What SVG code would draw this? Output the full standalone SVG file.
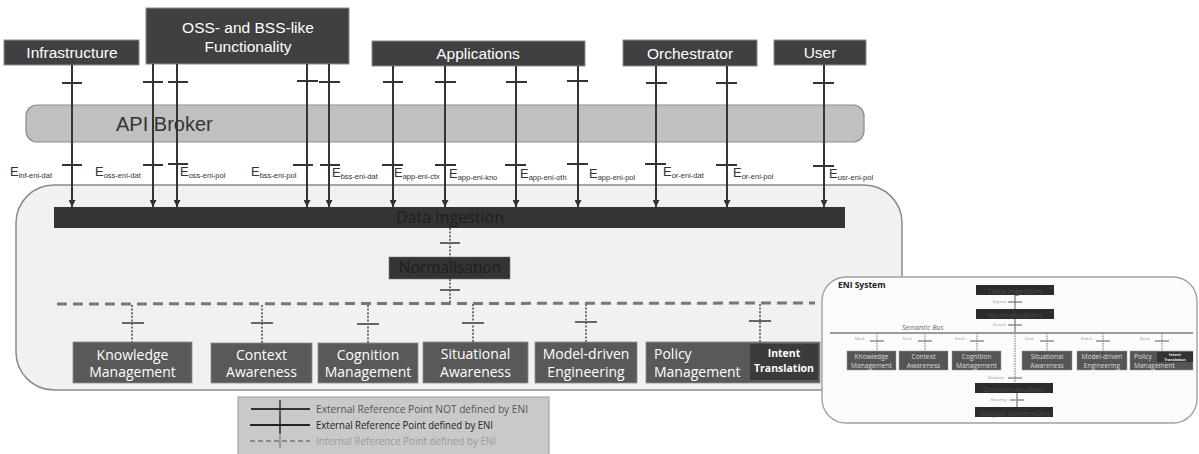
<svg xmlns="http://www.w3.org/2000/svg" width="1199" height="454" viewBox="0 0 1199 454">
  <defs>
    <marker id="arrow" markerUnits="userSpaceOnUse" markerWidth="7" markerHeight="7" refX="7" refY="3.5" orient="auto">
      <path d="M0,0 L7,3.5 L0,7 z" fill="#333"/>
    </marker>
    <style>
      .topbox { fill:#404040; stroke:#8c8c8c; stroke-width:1; }
      .toptxt { font-family:"Liberation Sans", Arial, sans-serif; font-size:15.5px; fill:#fff; text-anchor:middle; }
      .ext { stroke:#333; stroke-width:2; fill:none; }
      .tick { stroke:#333; stroke-width:2; }
      .elab { font-family:"Liberation Sans", Arial, sans-serif; font-size:13px; fill:#333; }
      .sub { font-size:7.5px; }
      .dot { stroke:#707070; stroke-width:2; stroke-dasharray:2 1.6; fill:none; }
      .itick { stroke:#666; stroke-width:2; }
      .mod { fill:#595959; stroke:#8c8c8c; stroke-width:0.8; }
      .modtxt { font-family:"Open Sans", "Noto Sans", sans-serif; font-size:14px; fill:#fff; text-anchor:middle; }
      .darkbar { fill:#343434; }
      .darktxt { font-family:"Open Sans", "Noto Sans", sans-serif; fill:#1e1e1e; text-anchor:middle; }
      .leg { font-family:"Open Sans", "Noto Sans", sans-serif; font-size:10px; }
      .mini { fill:#555; stroke:#999; stroke-width:0.5; }
      .minitxt { font-family:"Open Sans", "Noto Sans", sans-serif; font-size:6.6px; fill:#ddd; text-anchor:middle; }
      .minidark { fill:#2c2c2c; }
      .minidtxt { font-family:"Open Sans", "Noto Sans", sans-serif; font-size:8px; fill:#4a4a4a; text-anchor:middle; }
      .minilab { font-family:"Open Sans", "Noto Sans", sans-serif; font-size:3.6px; fill:#888; }
      .minitick { stroke:#777; stroke-width:1.2; }
      .minidot { stroke:#888; stroke-width:1.2; stroke-dasharray:1.5 1; fill:none; }
    </style>
  </defs>

  <rect width="1199" height="454" fill="#ffffff"/>

  <!-- ENI container -->
  <g id="node-eni-container">
    <rect x="16" y="185" width="886" height="205" rx="38" ry="38" fill="#f1f1f1" stroke="#8a8a8a" stroke-width="1.5"/>
  </g>

  <!-- API broker -->
  <g id="node-api-broker">
    <rect x="26" y="105" width="838" height="37" rx="11" ry="11" fill="#c0c0c0" stroke="#8a8a8a" stroke-width="1.2"/>
    <text x="116" y="131" font-family="Liberation Sans, Arial, sans-serif" font-size="20" fill="#333">API Broker</text>
  </g>

  <!-- external systems -->
  <g id="node-infrastructure">
    <rect class="topbox" x="4" y="40" width="135" height="25"/>
    <text class="toptxt" x="72" y="58">Infrastructure</text>
  </g>
  <g id="node-oss-bss">
    <rect class="topbox" x="146" y="8" width="203" height="56"/>
    <text class="toptxt" x="248" y="33">OSS- and BSS-like</text>
    <text class="toptxt" x="248" y="52">Functionality</text>
  </g>
  <g id="node-applications">
    <rect class="topbox" x="372" y="41" width="213" height="25"/>
    <text class="toptxt" x="478" y="59">Applications</text>
  </g>
  <g id="node-orchestrator">
    <rect class="topbox" x="623" y="40" width="134" height="26"/>
    <text class="toptxt" x="690" y="59">Orchestrator</text>
  </g>
  <g id="node-user">
    <rect class="topbox" x="774" y="40" width="92" height="25"/>
    <text class="toptxt" x="820" y="58">User</text>
  </g>

  <!-- data ingestion and normalisation -->
  <g id="node-data-ingestion">
    <rect class="darkbar" x="54" y="207" width="791" height="21"/>
    <text class="darktxt" x="450" y="223" font-size="16">Data Ingestion</text>
  </g>
  <g id="node-normalisation">
    <rect class="darkbar" x="389" y="257" width="121" height="22" stroke="#777" stroke-width="0.6"/>
    <text class="darktxt" x="450" y="273" font-size="15.5">Normalisation</text>
  </g>

  <!-- functional blocks -->
  <g id="node-knowledge-management">
    <rect class="mod" x="73" y="342" width="119" height="41"/>
    <text class="modtxt" x="132.5" y="360">Knowledge</text>
    <text class="modtxt" x="132.5" y="377">Management</text>
  </g>
  <g id="node-context-awareness">
    <rect class="mod" x="211" y="343" width="101" height="40"/>
    <text class="modtxt" x="261.5" y="360">Context</text>
    <text class="modtxt" x="261.5" y="377">Awareness</text>
  </g>
  <g id="node-cognition-management">
    <rect class="mod" x="318" y="343" width="100" height="40"/>
    <text class="modtxt" x="368" y="360">Cognition</text>
    <text class="modtxt" x="368" y="377">Management</text>
  </g>
  <g id="node-situational-awareness">
    <rect class="mod" x="423" y="342" width="105" height="41"/>
    <text class="modtxt" x="475.5" y="359">Situational</text>
    <text class="modtxt" x="475.5" y="377">Awareness</text>
  </g>
  <g id="node-model-driven-engineering">
    <rect class="mod" x="535" y="342" width="102" height="41"/>
    <text class="modtxt" x="586" y="359">Model-driven</text>
    <text class="modtxt" x="586" y="377">Engineering</text>
  </g>
  <g id="node-policy-management">
    <rect class="mod" x="646" y="342" width="174" height="41"/>
    <text x="654" y="359" font-family="Open Sans, Noto Sans, sans-serif" font-size="14" fill="#fff">Policy</text>
    <text x="654" y="377" font-family="Open Sans, Noto Sans, sans-serif" font-size="14" fill="#fff">Management</text>
    <g id="node-intent-translation">
      <rect x="750" y="344" width="68" height="36" fill="#3b3b3b"/>
      <text x="784" y="357" font-family="Open Sans, Noto Sans, sans-serif" font-size="10.5" font-weight="bold" fill="#fff" text-anchor="middle">Intent</text>
      <text x="784" y="372" font-family="Open Sans, Noto Sans, sans-serif" font-size="10.5" font-weight="bold" fill="#fff" text-anchor="middle">Translation</text>
    </g>
  </g>

  <!-- reference points -->
  <g id="connectors">
    <!-- external reference points into Data Ingestion -->
    <g class="ext">
      <line x1="72" y1="65" x2="72" y2="207" marker-end="url(#arrow)"/>
      <line x1="153" y1="64" x2="153" y2="207" marker-end="url(#arrow)"/>
      <line x1="177" y1="64" x2="177" y2="207" marker-end="url(#arrow)"/>
      <line x1="307" y1="64" x2="307" y2="207" marker-end="url(#arrow)"/>
      <line x1="329" y1="64" x2="329" y2="207" marker-end="url(#arrow)"/>
      <line x1="393" y1="66" x2="393" y2="207" marker-end="url(#arrow)"/>
      <line x1="445" y1="66" x2="445" y2="207" marker-end="url(#arrow)"/>
      <line x1="516" y1="66" x2="516" y2="207" marker-end="url(#arrow)"/>
      <line x1="578" y1="66" x2="578" y2="207" marker-end="url(#arrow)"/>
      <line x1="656" y1="66" x2="656" y2="207" marker-end="url(#arrow)"/>
      <line x1="727" y1="66" x2="727" y2="207" marker-end="url(#arrow)"/>
      <line x1="824" y1="65" x2="824" y2="207" marker-end="url(#arrow)"/>
    </g>
    <g class="tick">
      <line x1="62" y1="83" x2="82" y2="83"/><line x1="62" y1="165" x2="82" y2="165"/>
      <line x1="143" y1="82" x2="163" y2="82"/><line x1="143" y1="165" x2="163" y2="165"/>
      <line x1="168" y1="82" x2="188" y2="82"/><line x1="168" y1="164" x2="188" y2="164"/>
      <line x1="297" y1="81" x2="318" y2="81"/><line x1="293" y1="165" x2="313" y2="165"/>
      <line x1="319" y1="82" x2="340" y2="82"/><line x1="320" y1="165" x2="340" y2="165"/>
      <line x1="383" y1="82" x2="403" y2="82"/><line x1="382" y1="165" x2="403" y2="165"/>
      <line x1="435" y1="82" x2="456" y2="82"/><line x1="435" y1="165" x2="456" y2="165"/>
      <line x1="506" y1="82" x2="527" y2="82"/><line x1="505" y1="165" x2="526" y2="165"/>
      <line x1="567" y1="81" x2="588" y2="81"/><line x1="567" y1="164" x2="588" y2="164"/>
      <line x1="646" y1="83" x2="667" y2="83"/><line x1="645" y1="164" x2="666" y2="164"/>
      <line x1="716" y1="83" x2="737" y2="83"/><line x1="716" y1="165" x2="737" y2="165"/>
      <line x1="813" y1="83" x2="834" y2="83"/><line x1="813" y1="166" x2="834" y2="166"/>
    </g>

    <!-- internal reference points -->
    <line class="dot" x1="450" y1="228" x2="450" y2="257"/>
    <line class="itick" x1="440" y1="243" x2="460" y2="243"/>
    <line class="dot" x1="450" y1="279" x2="450" y2="304"/>
    <line class="itick" x1="440" y1="290" x2="460" y2="290"/>
    <line x1="57" y1="304" x2="815" y2="303" stroke="#777" stroke-width="3" stroke-dasharray="10 6"/>
    <g>
      <line class="dot" x1="132" y1="305" x2="132" y2="342"/><line class="itick" x1="122" y1="323" x2="144" y2="323"/>
      <line class="dot" x1="262" y1="305" x2="262" y2="343"/><line class="itick" x1="251" y1="323" x2="273" y2="323"/>
      <line class="dot" x1="368" y1="305" x2="368" y2="343"/><line class="itick" x1="357" y1="324" x2="379" y2="324"/>
      <line class="dot" x1="473" y1="304" x2="473" y2="342"/><line class="itick" x1="462" y1="323" x2="484" y2="323"/>
      <line class="dot" x1="586" y1="304" x2="586" y2="342"/><line class="itick" x1="575" y1="322" x2="597" y2="322"/>
      <line class="dot" x1="760" y1="304" x2="760" y2="342"/><line class="itick" x1="749" y1="321" x2="771" y2="321"/>
    </g>

    <!-- reference point labels -->
    <text class="elab" x="10" y="176">E<tspan class="sub" dy="1.5">inf-eni-dat</tspan></text>
    <text class="elab" x="95" y="176">E<tspan class="sub" dy="1.5">oss-eni-dat</tspan></text>
    <text class="elab" x="180" y="176">E<tspan class="sub" dy="1.5">oss-eni-pol</tspan></text>
    <text class="elab" x="251" y="176">E<tspan class="sub" dy="1.5">bss-eni-pol</tspan></text>
    <text class="elab" x="332" y="177">E<tspan class="sub" dy="1.5">bss-eni-dat</tspan></text>
    <text class="elab" x="394" y="177">E<tspan class="sub" dy="1.5">app-eni-ctx</tspan></text>
    <text class="elab" x="449" y="178">E<tspan class="sub" dy="1.5">app-eni-kno</tspan></text>
    <text class="elab" x="520" y="178">E<tspan class="sub" dy="1.5">app-eni-oth</tspan></text>
    <text class="elab" x="589" y="178">E<tspan class="sub" dy="1.5">app-eni-pol</tspan></text>
    <text class="elab" x="663" y="176">E<tspan class="sub" dy="1.5">or-eni-dat</tspan></text>
    <text class="elab" x="733" y="177">E<tspan class="sub" dy="1.5">or-eni-pol</tspan></text>
    <text class="elab" x="829" y="178">E<tspan class="sub" dy="1.5">usr-eni-pol</tspan></text>
  </g>

  <!-- legend -->
  <g id="node-legend">
    <rect x="238" y="397" width="311" height="62" fill="#c9c9c9" stroke="#9a9a9a" stroke-width="1"/>
    <line x1="251" y1="409" x2="310" y2="409" stroke="#333" stroke-width="1.8"/>
    <line x1="280" y1="400" x2="280" y2="418" stroke="#333" stroke-width="1.5"/>
    <text class="leg" x="316" y="413" fill="#555" textLength="212" lengthAdjust="spacingAndGlyphs">External Reference Point NOT defined by ENI</text>
    <line x1="250" y1="425" x2="310" y2="425" stroke="#222" stroke-width="1.8"/>
    <line x1="280" y1="418" x2="280" y2="434" stroke="#222" stroke-width="1.5"/>
    <text class="leg" x="316" y="429" fill="#222" textLength="177" lengthAdjust="spacingAndGlyphs">External Reference Point defined by ENI</text>
    <line x1="250" y1="441" x2="310" y2="441" stroke="#8a8a8a" stroke-width="1.8" stroke-dasharray="5 3"/>
    <line x1="280" y1="435" x2="280" y2="448" stroke="#8a8a8a" stroke-width="1.5"/>
    <text class="leg" x="316" y="445" fill="#999" textLength="180" lengthAdjust="spacingAndGlyphs">Internal Reference Point defined by ENI</text>
  </g>

  <!-- ENI system overview -->
  <g id="node-eni-system">
    <rect x="822" y="277" width="375" height="146" rx="24" ry="24" fill="#fbfbfb" stroke="#a0a0a0" stroke-width="1.4"/>
    <text x="838" y="288" font-family="Open Sans, Noto Sans, sans-serif" font-size="8.5" font-weight="bold" fill="#222">ENI System</text>

    <rect class="minidark" x="976" y="285" width="78" height="10"/>
    <text class="minidtxt" x="1015" y="293.5">Data Ingestion</text>
    <line x1="1015" y1="295" x2="1015" y2="309" stroke="#777" stroke-width="1.2"/>
    <line class="minitick" x1="1008" y1="302" x2="1022" y2="302"/>
    <text class="minilab" x="993" y="303">E<tspan font-size="2.6">ing-norm</tspan></text>

    <rect class="minidark" x="976" y="309" width="78" height="10"/>
    <text class="minidtxt" x="1015" y="317.5">Normalisation</text>
    <line x1="1015" y1="319" x2="1015" y2="333" stroke="#777" stroke-width="1.2"/>
    <line class="minitick" x1="1008" y1="325" x2="1022" y2="325"/>
    <text class="minilab" x="993" y="326">E<tspan font-size="2.6">norm-sb</tspan></text>

    <line x1="830" y1="333" x2="1193" y2="333" stroke="#9a9a9a" stroke-width="1.8"/>
    <text x="902" y="330" font-family="Open Sans, Noto Sans, sans-serif" font-size="7" font-style="italic" fill="#666">Semantic Bus</text>

    <line class="minidot" x1="1015" y1="333" x2="1015" y2="383"/>
    <line class="minitick" x1="1008" y1="378" x2="1022" y2="378"/>
    <text class="minilab" x="988" y="379">E<tspan font-size="2.6">sb-denorm</tspan></text>

    <g>
      <line class="minidot" x1="877" y1="333" x2="877" y2="351"/><line class="minitick" x1="870" y1="341" x2="884" y2="341"/>
      <text class="minilab" x="855" y="340">E<tspan font-size="2.6">km-sb</tspan></text>
      <line class="minidot" x1="925" y1="333" x2="925" y2="351"/><line class="minitick" x1="918" y1="341" x2="932" y2="341"/>
      <text class="minilab" x="903" y="340">E<tspan font-size="2.6">ca-sb</tspan></text>
      <line class="minidot" x1="977" y1="333" x2="977" y2="351"/><line class="minitick" x1="970" y1="341" x2="984" y2="341"/>
      <text class="minilab" x="955" y="340">E<tspan font-size="2.6">cm-sb</tspan></text>
      <line class="minidot" x1="1047" y1="333" x2="1047" y2="351"/><line class="minitick" x1="1040" y1="341" x2="1054" y2="341"/>
      <text class="minilab" x="1025" y="340">E<tspan font-size="2.6">sa-sb</tspan></text>
      <line class="minidot" x1="1103" y1="333" x2="1103" y2="351"/><line class="minitick" x1="1096" y1="341" x2="1110" y2="341"/>
      <text class="minilab" x="1081" y="340">E<tspan font-size="2.6">mde-sb</tspan></text>
      <line class="minidot" x1="1162" y1="333" x2="1162" y2="351"/><line class="minitick" x1="1155" y1="341" x2="1169" y2="341"/>
      <text class="minilab" x="1140" y="340">E<tspan font-size="2.6">pm-sb</tspan></text>
    </g>

    <rect class="mini" x="847" y="351" width="49" height="19"/>
    <text class="minitxt" x="871.5" y="359">Knowledge</text><text class="minitxt" x="871.5" y="367.5">Management</text>
    <rect class="mini" x="899" y="351" width="49" height="19"/>
    <text class="minitxt" x="923.5" y="359">Context</text><text class="minitxt" x="923.5" y="367.5">Awareness</text>
    <rect class="mini" x="952" y="351" width="49" height="19"/>
    <text class="minitxt" x="976.5" y="359">Cognition</text><text class="minitxt" x="976.5" y="367.5">Management</text>
    <rect class="mini" x="1022" y="351" width="50" height="19"/>
    <text class="minitxt" x="1047" y="359">Situational</text><text class="minitxt" x="1047" y="367.5">Awareness</text>
    <rect class="mini" x="1077" y="351" width="50" height="19"/>
    <text class="minitxt" x="1102" y="359">Model-driven</text><text class="minitxt" x="1102" y="367.5">Engineering</text>
    <rect class="mini" x="1130" y="351" width="63" height="19"/>
    <text x="1134" y="359" font-family="Open Sans, Noto Sans, sans-serif" font-size="6.6" fill="#ddd">Policy</text>
    <text x="1134" y="367.5" font-family="Open Sans, Noto Sans, sans-serif" font-size="6.6" fill="#ddd">Management</text>
    <rect x="1157" y="352" width="36" height="10" fill="#333"/>
    <text x="1175" y="356.3" font-family="Open Sans, Noto Sans, sans-serif" font-size="3.8" font-weight="bold" fill="#eee" text-anchor="middle">Intent</text>
    <text x="1175" y="361.3" font-family="Open Sans, Noto Sans, sans-serif" font-size="3.8" font-weight="bold" fill="#eee" text-anchor="middle">Translation</text>

    <rect class="minidark" x="975" y="383" width="78" height="10"/>
    <text class="minidtxt" x="1014" y="391.5">Denormalisation</text>
    <line x1="1017" y1="393" x2="1017" y2="407" stroke="#777" stroke-width="1.2"/>
    <line class="minitick" x1="1010" y1="400" x2="1024" y2="400"/>
    <text class="minilab" x="991" y="401">E<tspan font-size="2.6">denorm-og</tspan></text>

    <rect class="minidark" x="975" y="407" width="78" height="10"/>
    <text class="minidtxt" x="1014" y="415.5">Output Generation</text>
  </g>
</svg>
